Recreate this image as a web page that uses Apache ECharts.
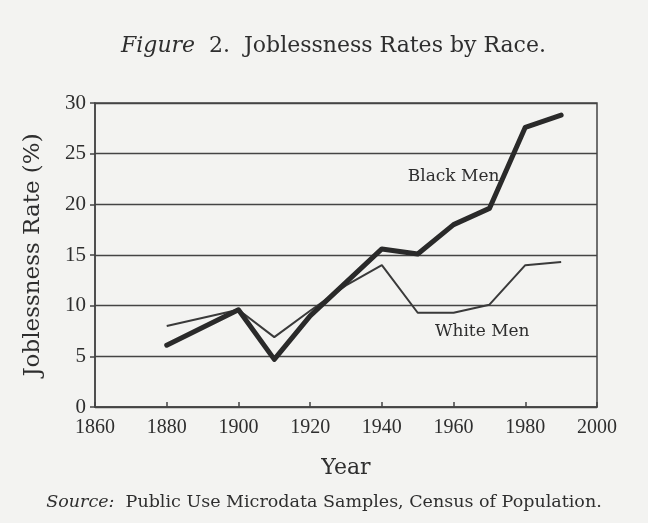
<!DOCTYPE html>
<html>
<head>
<meta charset="utf-8">
<script src="https://cdn.jsdelivr.net/npm/echarts@6/dist/echarts.min.js"></script>
<style>
  html, body { margin: 0; padding: 0; background: #f3f3f1; }
  #chart { width: 648px; height: 523px; }
</style>
</head>
<body>
<div id="chart"></div>
<script>
// data
const years = [1880, 1900, 1910, 1920, 1930, 1940, 1950, 1960, 1970, 1980, 1990]
const blackMen = [6.1, 9.6, 4.7, 9.0, 12.3, 15.6, 15.1, 18.0, 19.6, 27.6, 28.8]
const whiteMen = [8.0, 9.6, 6.9, 9.5, 12.0, 14.0, 9.3, 9.3, 10.1, 14.0, 14.3]
const yTicks = [0, 5, 10, 15, 20, 25, 30]

// wide serif for the words, narrower one for the numbers
const serif = '"DejaVu Serif", "Liberation Serif", serif'
const numSerif = '"Liberation Serif", "DejaVu Serif", serif'
const ink = '#2e2e2e'

const chart = echarts.init(document.getElementById('chart'))

chart.setOption({
  backgroundColor: '#f3f3f1',
  animation: false,
  textStyle: { fontFamily: serif, color: ink },
  title: {
    text: '{i|Figure}  2.  Joblessness Rates by Race.',
    left: 116,
    top: 30,
    textStyle: {
      fontFamily: serif,
      fontSize: 22,
      fontWeight: 'normal',
      color: ink,
      rich: {
        i: { fontFamily: serif, fontSize: 22, fontStyle: 'italic', color: ink }
      }
    }
  },
  grid: {
    left: 95,
    right: 51,
    top: 103,
    bottom: 116,
    show: true,
    borderColor: '#444',
    borderWidth: 1.5
  },
  xAxis: {
    type: 'value',
    min: 1860,
    max: 2000,
    interval: 20,
    name: 'Year',
    nameLocation: 'middle',
    nameGap: 50,
    nameTextStyle: { fontFamily: serif, fontSize: 22, color: ink },
    axisLine: { lineStyle: { color: '#444', width: 1.5 } },
    axisTick: { inside: true, length: 5, lineStyle: { color: '#444', width: 1.5 } },
    axisLabel: {
      fontFamily: numSerif, fontSize: 20, color: ink, margin: 11,
      formatter: (v) => String(v)
    },
    splitLine: { show: false }
  },
  yAxis: {
    type: 'value',
    min: 0,
    max: 30,
    interval: 5,
    name: 'Joblessness Rate (%)',
    nameLocation: 'middle',
    nameGap: 50,
    nameTextStyle: { fontFamily: serif, fontSize: 23, color: ink },
    axisLine: { show: true, lineStyle: { color: '#444', width: 1.5 } },
    axisTick: { show: true, length: 5, lineStyle: { color: '#444', width: 1.5 } },
    axisLabel: {
      fontFamily: numSerif, fontSize: 21, color: ink, margin: 9,
      formatter: (v) => (yTicks.includes(v) ? String(v) : '')
    },
    splitLine: { show: true, lineStyle: { color: '#444', width: 1.3 } }
  },
  series: [
    {
      name: 'White Men',
      type: 'line',
      data: years.map((y, i) => [y, whiteMen[i]]),
      showSymbol: false,
      lineStyle: { color: '#3a3a3a', width: 2 },
      markPoint: {
        symbol: 'circle',
        symbolSize: 0,
        label: { show: true, formatter: 'White Men', fontFamily: serif, fontSize: 17, color: ink },
        data: [{ coord: [1968, 7.4] }]
      }
    },
    {
      name: 'Black Men',
      type: 'line',
      data: years.map((y, i) => [y, blackMen[i]]),
      showSymbol: false,
      lineStyle: { color: '#2a2a2a', width: 5, join: 'round', cap: 'round' },
      markPoint: {
        symbol: 'circle',
        symbolSize: 0,
        label: { show: true, formatter: 'Black Men', fontFamily: serif, fontSize: 17, color: ink },
        data: [{ coord: [1960, 22.7] }]
      }
    }
  ],
  graphic: [
    {
      type: 'text',
      left: 'center',
      top: 493,
      style: {
        text: '{i|Source:}  Public Use Microdata Samples, Census of Population.',
        fontFamily: serif,
        fontSize: 17.5,
        fill: ink,
        rich: {
          i: { fontFamily: serif, fontSize: 17.5, fontStyle: 'italic', color: ink }
        }
      }
    }
  ]
})
</script>
</body>
</html>
